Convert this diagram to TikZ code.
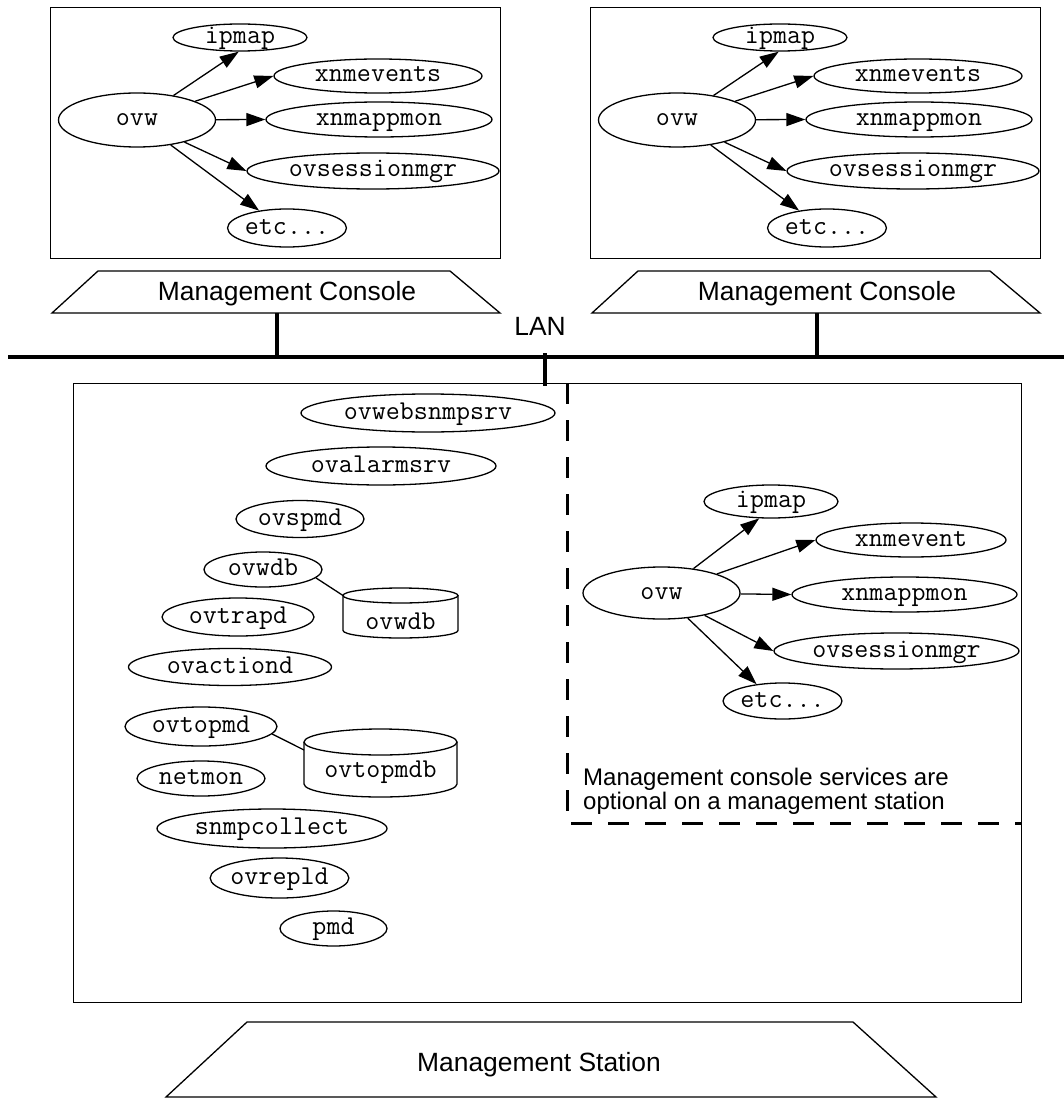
\documentclass[tikz,border=0pt]{standalone}
\usepackage{fontspec}
\setmainfont{Liberation Sans}
\usetikzlibrary{arrows.meta,shapes.geometric}

\tikzset{
  proc/.style={ellipse, draw, line width=1.3pt, inner sep=0pt,
    font=\ttfamily\fontsize{27.2}{28}\selectfont, text height=12pt, text depth=0pt},
  link/.style={line width=1.3pt, -{Triangle[length=19pt,width=13pt]}},
  frame/.style={draw, line width=1.4pt, inner sep=0pt, anchor=north west},
  plain/.style={line width=1.3pt},
  hostlabel/.style={font=\fontsize{26.4}{30}\selectfont, inner sep=0pt, anchor=base},
  wire/.style={line width=3.5pt},
  lan/.style={line width=4.5pt},
  optline/.style={line width=3pt, dash pattern=on 21pt off 16pt},
}

% database drawn as a cylinder: #1 name, #2 centre x,
% #3 top rim centre y, #4 bottom rim centre y, #5 x radius, #6 y radius
\newcommand\dbstore[6]{%
  \draw[plain] (#2-#5,#3) -- (#2-#5,#4)
    arc[start angle=180, end angle=0, x radius=#5, y radius=#6] -- (#2+#5,#3);
  \draw[plain] (#2,#3) ellipse[x radius=#5, y radius=#6];
}

% one management console: its window of processes and its host
\newcommand\consolegroup[2]{%
\begin{scope}[xshift=#1pt, name prefix=#2-]
  \node[frame, minimum width=450pt, minimum height=251pt] (box) at (50,7) {};
  \node[proc, minimum width=157pt, minimum height=54pt] (ovw) at (137,120) {ovw};
  \node[proc, minimum width=134pt, minimum height=27pt] (ipmap) at (240,37.5) {ipmap};
  \node[proc, minimum width=208pt, minimum height=34pt] (xnmevents) at (378,76) {xnmevents};
  \node[proc, minimum width=226pt, minimum height=35pt] (xnmappmon) at (379,119.5) {xnmappmon};
  \node[proc, minimum width=252pt, minimum height=36pt] (ovsessionmgr) at (373,171) {ovsessionmgr};
  \node[proc, minimum width=118pt, minimum height=38pt] (etc) at (287,228) {etc...};
  \draw[link] (ovw) -- (ipmap.265);
  \draw[link] (ovw) -- (xnmevents.west);
  \draw[link] (ovw) -- (xnmappmon.west);
  \draw[link] (ovw) -- (ovsessionmgr.west);
  \draw[link] (ovw) -- (etc.148);
  \draw[plain] (52,313) -- (98,271) -- (450,271) -- (500,313) -- cycle;
  \node[hostlabel] (host) at (287,300) {Management Console};
  \coordinate (foot) at (277,313);
\end{scope}}

\begin{document}
\begin{tikzpicture}[x=1pt, y=-1pt]
\useasboundingbox (0,0) rectangle (1064,1099);

% the two consoles
\consolegroup{0}{L}
\consolegroup{540}{R}

% the LAN and its taps
\coordinate (lanW) at (8,357);
\coordinate (lanE) at (1064,357);
\draw[lan] (lanW) -- (lanE);
\node[font=\fontsize{26.4}{30}\selectfont, inner sep=0pt] (lanlabel) at (540,326) {LAN};
\draw[wire] (L-foot) -- (L-foot |- lanW);
\draw[wire] (R-foot) -- (R-foot |- lanW);

% management station
\node[frame, minimum width=948pt, minimum height=619pt] (station) at (73,383) {};
\coordinate (tap) at (545,353);
\draw[wire] (tap) -- ++(0,33);

\node[proc, minimum width=254pt, minimum height=38pt] (websnmp) at (428,413) {ovwebsnmpsrv};
\node[proc, minimum width=230pt, minimum height=38pt] (alarm) at (381,466) {ovalarmsrv};
\node[proc, minimum width=128pt, minimum height=37pt] (spmd) at (300,519) {ovspmd};
\node[proc, minimum width=118pt, minimum height=35pt] (wdb) at (263,569.5) {ovwdb};
\node[proc, minimum width=152pt, minimum height=38pt] (trapd) at (238,617) {ovtrapd};
\node[proc, minimum width=203pt, minimum height=37pt] (actiond) at (230,667) {ovactiond};
\node[proc, minimum width=152pt, minimum height=39pt] (topmd) at (201,726.5) {ovtopmd};
\node[proc, minimum width=128pt, minimum height=35pt] (netmon) at (201,778.5) {netmon};
\node[proc, minimum width=230pt, minimum height=39pt] (snmpc) at (272,828.5) {snmpcollect};
\node[proc, minimum width=135pt, minimum height=40pt] (repld) at (279.5,878) {ovrepld};
\node[proc, minimum width=107pt, minimum height=35pt] (pmd) at (333.5,928.5) {pmd};

% databases
\dbstore{wdbstore}{400.5}{595.5}{630.5}{57.5}{7.5}
\node[proc, draw=none] (wdbname) at (400.5,623) {ovwdb};
\coordinate (wdbjoin) at (343,595.5);
\draw[plain] (wdb.-9) -- (wdbjoin);

\dbstore{topstore}{380.5}{742}{784}{76.5}{13}
\node[proc, draw=none] (topname) at (380.5,771) {ovtopmdb};
\coordinate (topjoin) at (304,750);
\draw[plain] (topmd.-6) -- (topjoin);

% optional console services
\coordinate (split) at (567,383);
\coordinate (corner) at (567,823);
\draw[optline] (split) -- (corner) -- (corner -| station.east);

\node[proc, minimum width=157pt, minimum height=52pt] (sovw) at (661.5,593) {ovw};
\node[proc, minimum width=134pt, minimum height=33pt] (sipmap) at (771,501.5) {ipmap};
\node[proc, minimum width=190pt, minimum height=34pt] (sxnmevent) at (911,540) {xnmevent};
\node[proc, minimum width=225pt, minimum height=35pt] (sxnmappmon) at (904.5,594.5) {xnmappmon};
\node[proc, minimum width=245pt, minimum height=36pt] (ssession) at (896.5,651) {ovsessionmgr};
\node[proc, minimum width=115pt, minimum height=36pt] (setc) at (782.5,701) {etc...};
\draw[link] (sovw) -- (sipmap.235);
\draw[link] (sovw) -- (sxnmevent.west);
\draw[link] (sovw) -- (sxnmappmon.west);
\draw[link] (sovw) -- (ssession.west);
\draw[link] (sovw) -- (setc.147);

\node[anchor=north west, align=left, inner sep=0pt,
      font=\fontsize{24}{24}\selectfont] (note) at (583,767.5)
  {Management console services are\\optional on a management station};

% station host
\draw[plain] (166,1097) -- (247,1022) -- (853,1022) -- (936,1097) -- cycle;
\node[hostlabel] (stationlabel) at (539,1071) {Management Station};
\end{tikzpicture}
\end{document}
